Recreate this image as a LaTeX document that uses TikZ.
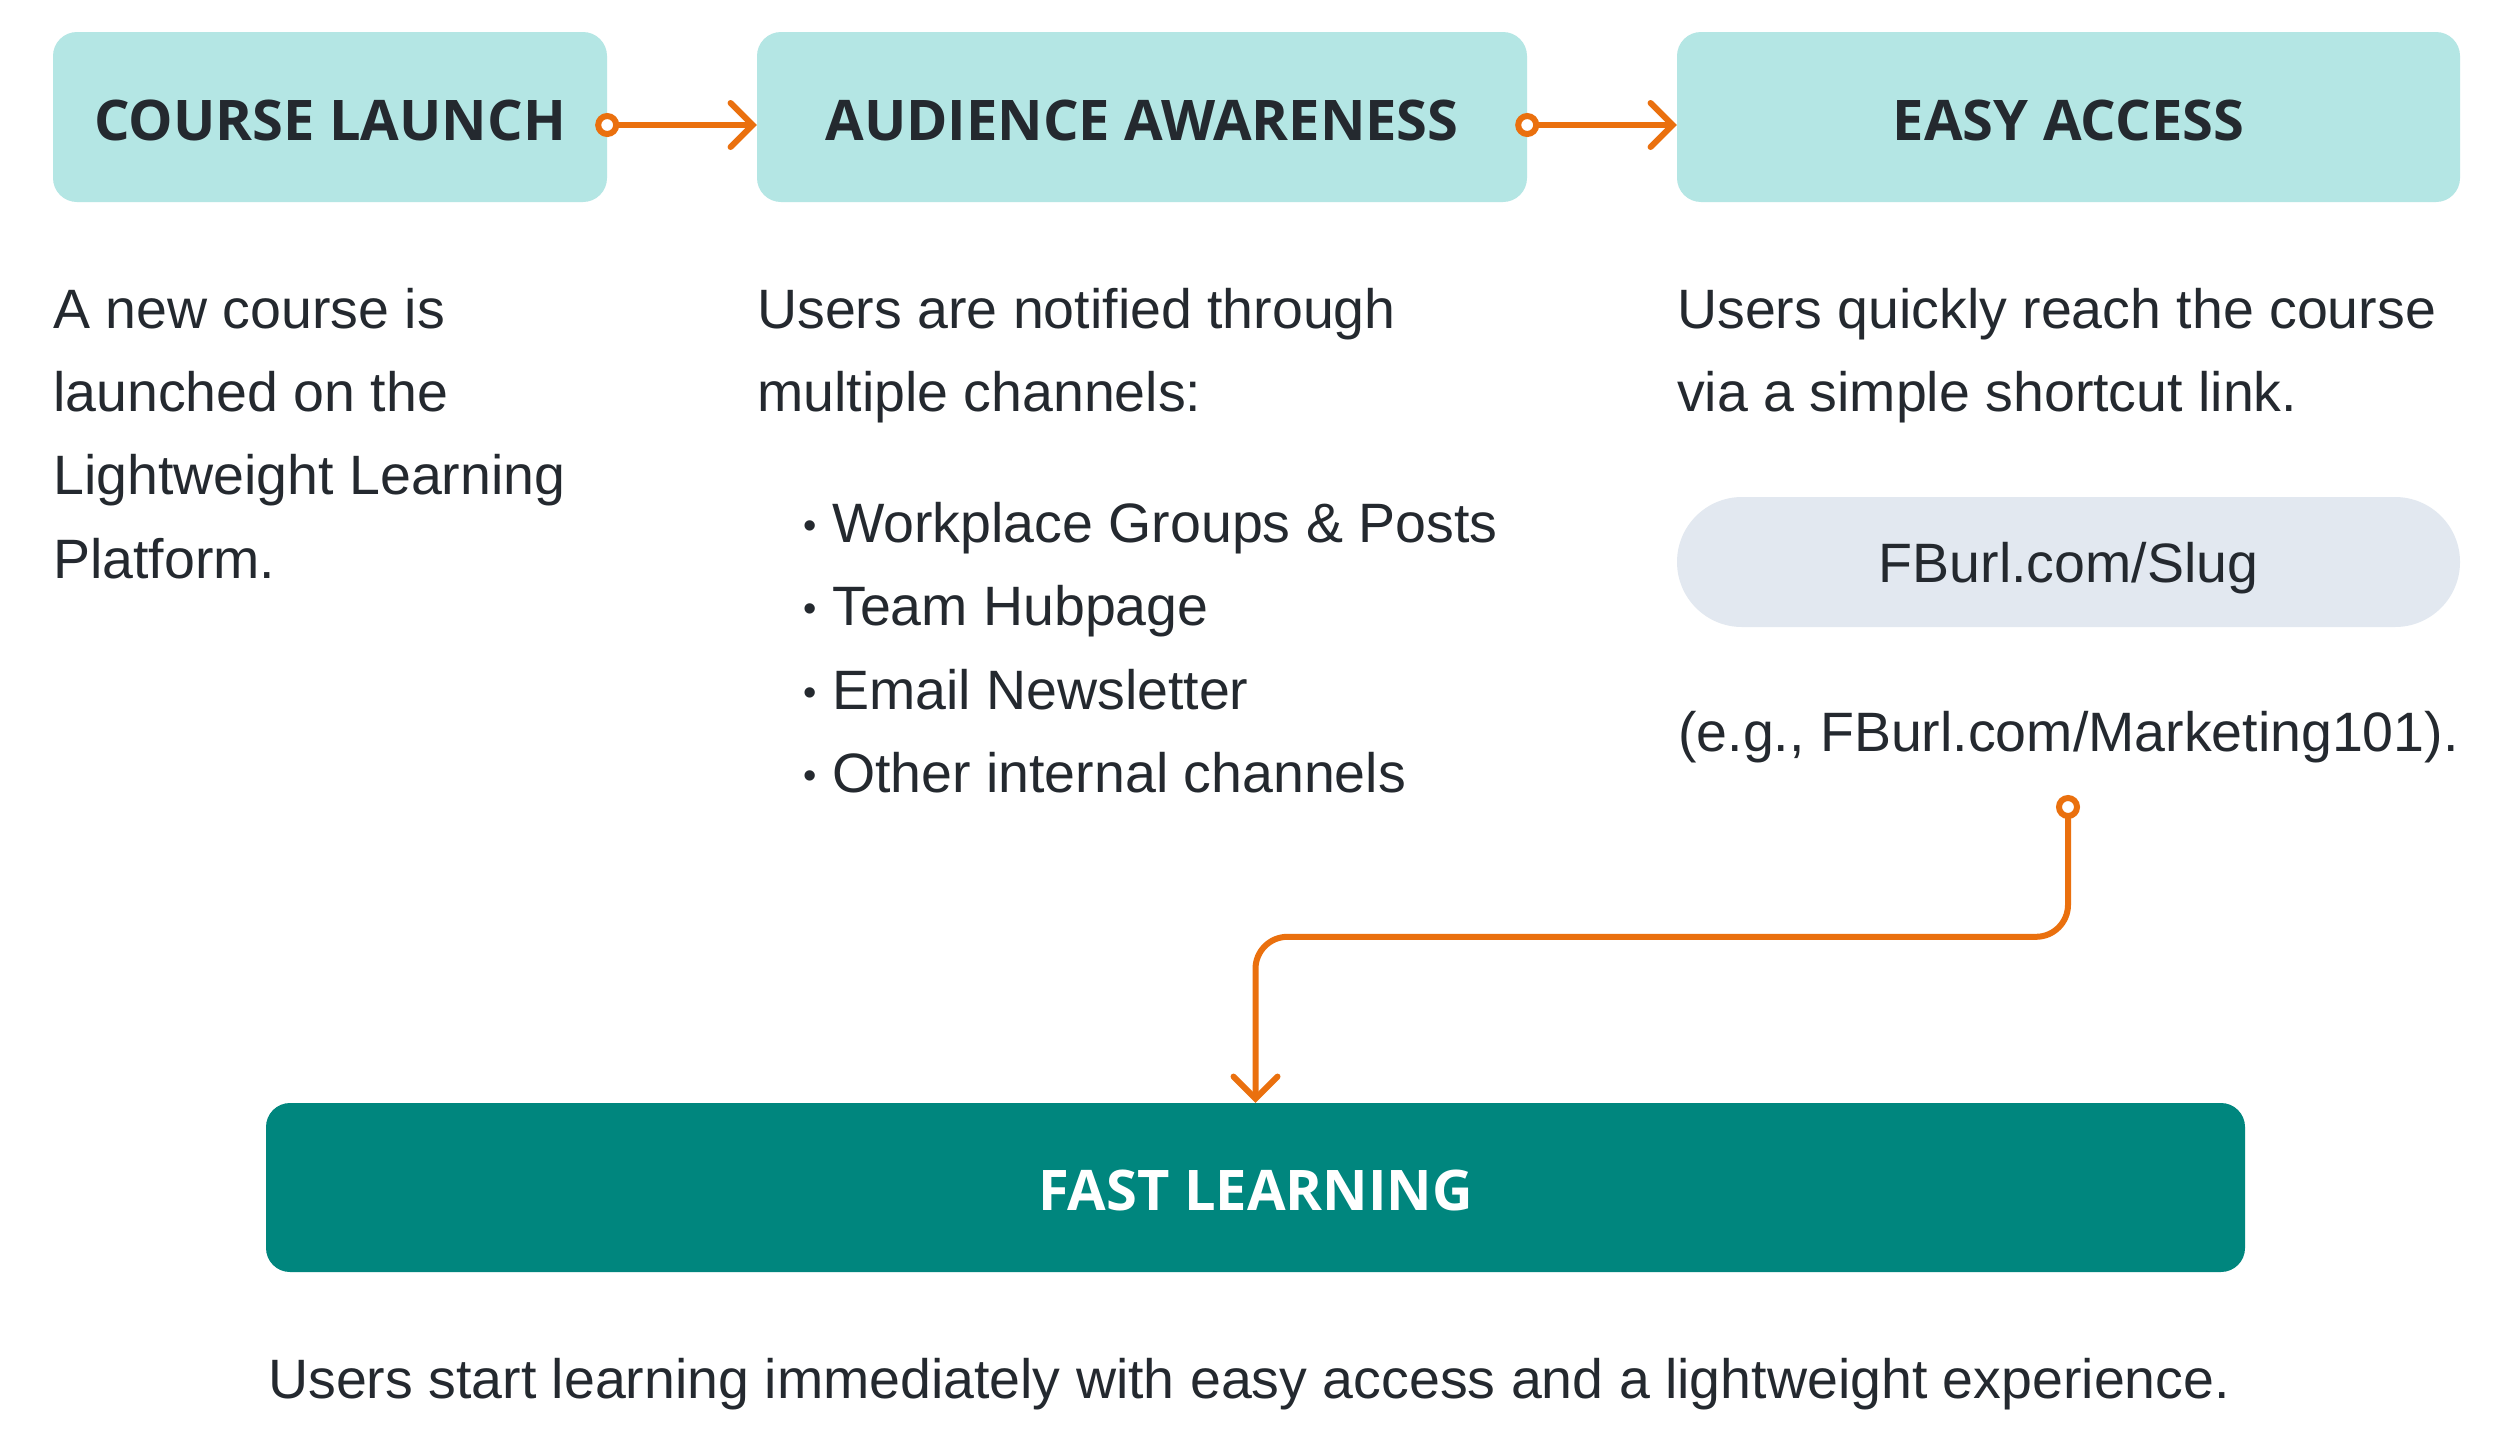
\documentclass[tikz,border=0pt]{standalone}
\usepackage{fontspec}
\setmainfont{Liberation Sans}
\newfontfamily\titlefont{Open Sans}
\usetikzlibrary{arrows.meta}
\definecolor{lteal}{RGB}{180,230,228}
\definecolor{dteal}{RGB}{0,134,126}
\definecolor{ink}{RGB}{36,41,47}
\definecolor{pill}{RGB}{226,232,240}
\definecolor{orng}{RGB}{234,112,14}
\newcommand{\blt}{\makebox[29pt][l]{\raisebox{4pt}{\fontsize{38}{38}\selectfont\textbullet}}}
\tikzset{
  stepbox/.style={fill=lteal, rounded corners=24pt, inner sep=0pt, text=ink,
     text height=46pt, text depth=0pt,
     font=\titlefont\bfseries\fontsize{56}{70}\selectfont},
  bigbox/.style={fill=dteal, rounded corners=24pt, inner sep=0pt, text=white,
     text height=46pt, text depth=0pt,
     font=\titlefont\bfseries\fontsize{56}{70}\selectfont},
  pillbox/.style={fill=pill, rounded corners=65pt, inner sep=0pt, text=ink,
     text height=40pt, text depth=0pt,
     font=\fontsize{55.5}{60}\selectfont},
  body/.style={anchor=base west, inner sep=0pt, text=ink, font=\fontsize{55.5}{60}\selectfont},
  conn/.style={draw=orng, line width=6pt, line cap=round, line join=round,
     -{Straight Barb[length=22pt,width=44pt,line width=6pt,line cap=round]}},
  startdot/.style={draw=orng, fill=white, line width=6pt},
}
\begin{document}
\begin{tikzpicture}[x=1pt,y=-1pt]
\useasboundingbox[fill=white] (0,0) rectangle (2500,1443);
% top boxes
\node[stepbox, minimum width=554pt, minimum height=170pt] (b1) at (330,117) {COURSE LAUNCH};
\node[stepbox, minimum width=770pt, minimum height=170pt] (b2) at (1142,117) {AUDIENCE AWARENESS};
\node[stepbox, minimum width=783pt, minimum height=170pt] (b3) at (2068.5,117) {EASY ACCESS};
% column 1
\node[body] (t11) at (53,328) {A new course is};
\node[body] (t12) at (53,411) {launched on the};
\node[body] (t13) at (53,494) {Lightweight Learning};
\node[body] (t14) at (53,578) {Platform.};
% column 2
\node[body] (t21) at (757,328) {Users are notified through};
\node[body] (t22) at (757,411) {multiple channels:};
\node[body] (l1) at (803,542) {\blt Workplace Groups \& Posts};
\node[body] (l2) at (803,625) {\blt Team Hubpage};
\node[body] (l3) at (803,709) {\blt Email Newsletter};
\node[body] (l4) at (803,792) {\blt Other internal channels};
% column 3
\node[body] (t31) at (1677,328) {Users quickly reach the course};
\node[body] (t32) at (1677,411) {via a simple shortcut link.};
\node[pillbox, minimum width=783pt, minimum height=130pt] (p) at (2068.5,562) {FBurl.com/Slug};
\node[body, anchor=base] (eg) at (2068.5,751) {(e.g., FBurl.com/Marketing101).};
% bottom
\node[bigbox, minimum width=1979pt, minimum height=169pt] (fast) at (1255.5,1187.5) {FAST LEARNING};
\node[body] (bt) at (268,1398) {Users start learning immediately with easy access and a lightweight experience.};
% connectors
\coordinate (c3) at (2068,807);
\draw[conn] ([yshift=-8pt]b1.east) -- ([yshift=-8pt]b2.west);
\draw[conn] ([yshift=-8pt]b2.east) -- ([yshift=-8pt]b3.west);
\draw[conn, rounded corners=32pt] (c3) |- ([yshift=166pt]fast.north) -- (fast.north);
\draw[startdot] ([yshift=-8pt]b1.east) circle[radius=9pt];
\draw[startdot] ([yshift=-8pt]b2.east) circle[radius=9pt];
\draw[startdot] (c3) circle[radius=9pt];
\end{tikzpicture}
\end{document}
